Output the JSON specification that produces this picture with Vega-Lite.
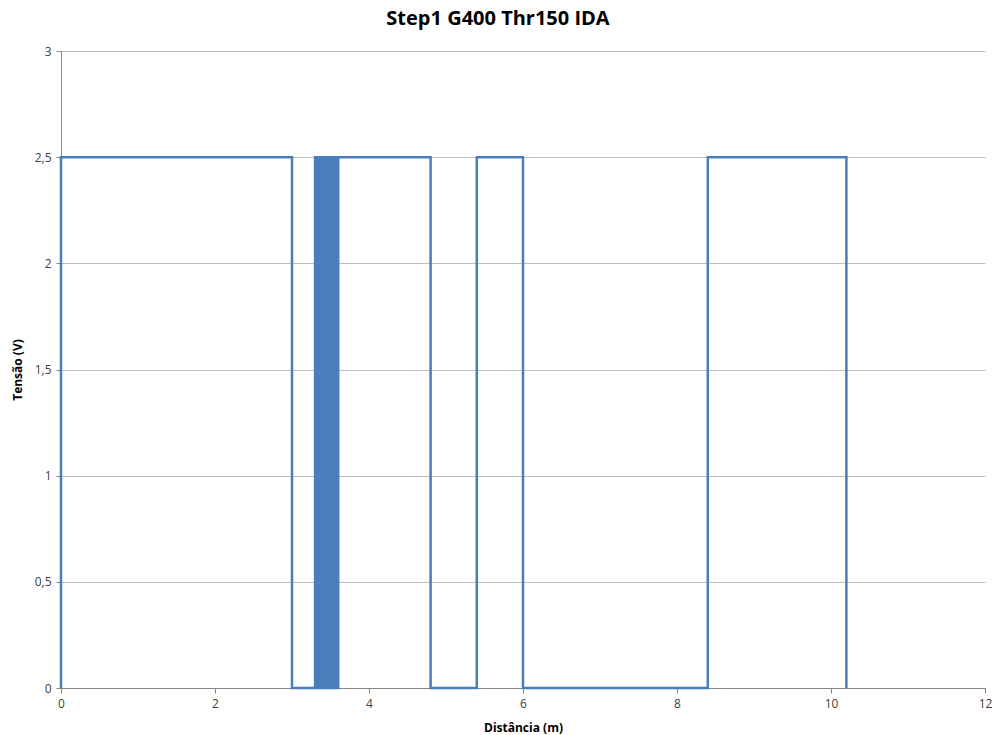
{
  "$schema": "https://vega.github.io/schema/vega-lite/v6.json",
  "autosize": "none",
  "padding": {"left": 61, "top": 51, "right": 10, "bottom": 47},
  "width": 924,
  "height": 637,
  "background": "white",
  "title": {
    "text": "Step1 G400 Thr150 IDA",
    "font": "Liberation Sans Narrow, Open Sans",
    "fontSize": 20,
    "fontWeight": "bold",
    "color": "#000000",
    "anchor": "middle",
    "dx": -25,
    "offset": 16
  },
  "data": {
    "values": [
      {"d": 0, "v": 0},
      {"d": 0, "v": 2.5},
      {"d": 3.0, "v": 0},
      {"d": 3.3, "v": 2.5},
      {"d": 3.31, "v": 0},
      {"d": 3.32, "v": 2.5},
      {"d": 3.33, "v": 0},
      {"d": 3.34, "v": 2.5},
      {"d": 3.35, "v": 0},
      {"d": 3.36, "v": 2.5},
      {"d": 3.37, "v": 0},
      {"d": 3.38, "v": 2.5},
      {"d": 3.39, "v": 0},
      {"d": 3.40, "v": 2.5},
      {"d": 3.41, "v": 0},
      {"d": 3.42, "v": 2.5},
      {"d": 3.43, "v": 0},
      {"d": 3.44, "v": 2.5},
      {"d": 3.45, "v": 0},
      {"d": 3.46, "v": 2.5},
      {"d": 3.47, "v": 0},
      {"d": 3.48, "v": 2.5},
      {"d": 3.49, "v": 0},
      {"d": 3.50, "v": 2.5},
      {"d": 3.51, "v": 0},
      {"d": 3.52, "v": 2.5},
      {"d": 3.53, "v": 0},
      {"d": 3.54, "v": 2.5},
      {"d": 3.55, "v": 0},
      {"d": 3.56, "v": 2.5},
      {"d": 3.57, "v": 0},
      {"d": 3.58, "v": 2.5},
      {"d": 3.59, "v": 0},
      {"d": 3.60, "v": 2.5},
      {"d": 4.8, "v": 0},
      {"d": 5.4, "v": 2.5},
      {"d": 6.0, "v": 0},
      {"d": 8.4, "v": 2.5},
      {"d": 10.2, "v": 0}
    ]
  },
  "mark": {
    "type": "line",
    "interpolate": "step-after",
    "color": "#4a7ebb",
    "strokeWidth": 2.5,
    "clip": false
  },
  "encoding": {
    "x": {
      "field": "d",
      "type": "quantitative",
      "sort": null,
      "scale": {"domain": [0, 12], "nice": false, "zero": false},
      "axis": {
        "values": [0, 2, 4, 6, 8, 10, 12],
        "title": "Distância (m)",
        "grid": false,
        "labelFlush": false,
        "domainColor": "#868686",
        "tickColor": "#868686",
        "tickSize": 5,
        "labelFont": "Liberation Sans Narrow, Open Sans",
        "labelFontSize": 12,
        "labelColor": "#404040",
        "labelPadding": 5,
        "titleFont": "Liberation Sans Narrow, Open Sans",
        "titleFontSize": 12,
        "titleFontWeight": "bold",
        "titleColor": "#000000",
        "titlePadding": 13
      }
    },
    "y": {
      "field": "v",
      "type": "quantitative",
      "scale": {"domain": [0, 3], "nice": false},
      "axis": {
        "values": [0, 0.5, 1, 1.5, 2, 2.5, 3],
        "labelExpr": "replace(format(datum.value, '~g'), '.', ',')",
        "title": "Tensão (V)",
        "grid": true,
        "gridColor": "#bfbfbf",
        "gridWidth": 1,
        "labelFlush": false,
        "domainColor": "#868686",
        "tickColor": "#868686",
        "tickSize": 5,
        "labelFont": "Liberation Sans Narrow, Open Sans",
        "labelFontSize": 12,
        "labelColor": "#404040",
        "labelPadding": 5,
        "titleFont": "Liberation Sans Narrow, Open Sans",
        "titleFontSize": 12,
        "titleFontWeight": "bold",
        "titleColor": "#000000",
        "titlePadding": 10
      }
    }
  },
  "config": {"view": {"stroke": null}}
}
